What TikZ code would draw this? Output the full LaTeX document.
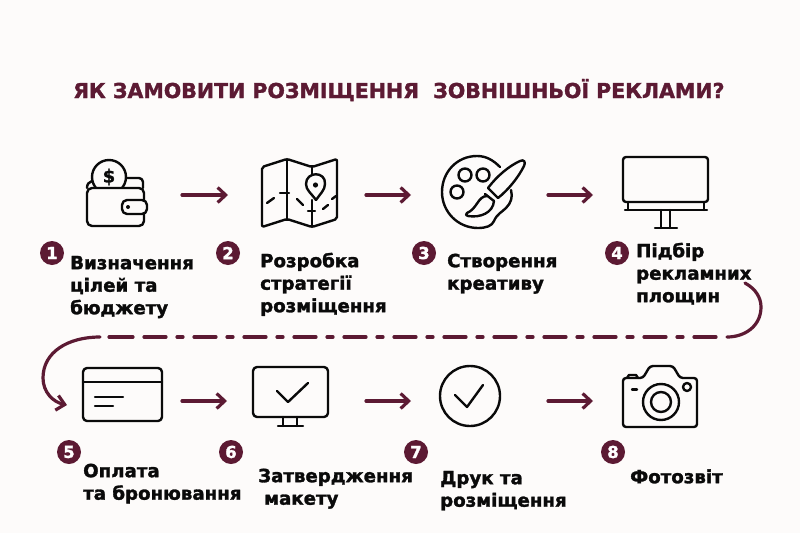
\documentclass[tikz,border=0pt]{standalone}
\usepackage{fontspec}
\setmainfont{DejaVu Sans}[BoldFeatures={FakeBold=1.6}]
\usetikzlibrary{arrows.meta}
\definecolor{maroon}{HTML}{5C1A33}
\definecolor{paper}{HTML}{FDFBFA}
\definecolor{ink}{HTML}{0A0A0A}
\tikzset{
  icon/.style={draw=ink,line width=2.4pt,line join=round,line cap=round},
  flow/.style={draw=maroon,line width=3.2pt,line cap=round,line join=round,-{Straight Barb[length=8pt,width=15pt,line width=3.2pt]}},
  dashrun/.style={draw=maroon,line width=3.2pt,line cap=round,dash pattern=on 22pt off 11pt on 6pt off 11pt},
  curve/.style={draw=maroon,line width=3.2pt,line cap=round},
  badge/.style={circle,fill=maroon,text=white,minimum size=24pt,inner sep=0pt,font=\bfseries\fontsize{16.5}{16.5}\selectfont},
  steptext/.style={anchor=north west,inner sep=0pt,align=left,text=ink,font=\bfseries\fontsize{18.2}{22.5}\selectfont},
}
\newcommand{\steplabel}[4]{\node[steptext] (#1) at (#2,#3-15) {\rule{0pt}{15pt}#4};}
\begin{document}
\begin{tikzpicture}[x=1pt,y=-1pt]
\useasboundingbox (0,0) rectangle (800,533);
\fill[paper] (0,0) rectangle (800,533);
\node[anchor=base west,inner sep=0pt,text=maroon,font=\bfseries\fontsize{20.53}{21}\selectfont] (title) at (73,98) {ЯК ЗАМОВИТИ РОЗМІЩЕННЯ\ \ ЗОВНІШНЬОЇ РЕКЛАМИ?};

% --- wallet
\begin{scope}
\clip (80,150) rectangle (150,188);
\draw[icon] (109,177) circle[radius=17pt];
\end{scope}
\node[inner sep=0pt,text=ink,font=\bfseries\fontsize{18}{18}\selectfont] (dollar) at (109,177) {\$};
\draw[icon,rounded corners=5pt] (144,200) -- (144,188) -- (87,188) -- (87,226) -- (144,226) -- (144,214);
\draw[icon] (87,188) .. controls (87,184) and (89,182) .. (92,181);
\draw[icon,rounded corners=4pt] (127,178) -- (143,178) -- (143,188);
\draw[icon,rounded corners=5pt] (147,200) -- (122,200) -- (122,214) -- (147,214) -- cycle;
\fill[ink] (128,207) circle[radius=2pt];

% --- map
\draw[icon,rounded corners=2pt] (262,167) -- (287,159) -- (312,167) -- (337,159) -- (337,219) -- (312,227) -- (287,219) -- (262,227) -- cycle;
\draw[icon] (287,159) -- (287,219);
\draw[icon] (312,167) -- (312,175);
\draw[icon] (312,200) -- (312,227);
\draw[icon] (316,200) .. controls (311,193) and (306,190) .. (306,184) .. controls (306,171) and (326,171) .. (325,184) .. controls (325,190) and (320,194) .. (316,200);
\fill[ink] (315.5,185) circle[radius=2.6pt];
\draw[icon] (267,203) -- (274,198);
\draw[icon] (280,193) -- (289,193);
\draw[icon] (297,199) -- (303,205);
\draw[icon] (308,211) -- (315,211);
\draw[icon] (323,209) -- (328,205);
\draw[icon] (332,199) -- (336,196);

% --- palette
\draw[icon] (500,167) .. controls (493,160) and (486,156) .. (477,156)
  .. controls (457,156) and (442,172) .. (442,192)
  .. controls (442,212) and (458,228) .. (478,228)
  .. controls (486,228) and (492,226) .. (494,221)
  .. controls (497,214) and (502,212) .. (506,208)
  .. controls (511,203) and (513,197) .. (511,190);
\draw[icon] (465,175) circle[radius=6.5pt];
\draw[icon] (483,175) circle[radius=6.5pt];
\draw[icon] (457,192) circle[radius=6.5pt];
\draw[icon] (488,188) .. controls (497,176) and (509,166) .. (520,161)
  .. controls (524,159) and (526,162) .. (524,166)
  .. controls (518,178) and (508,190) .. (498,198) -- cycle;
\draw[icon] (485,194) -- (494,201);
\draw[icon] (487,196) .. controls (478,196) and (477,209) .. (467,213)
  .. controls (465,214) and (466,216) .. (468,216)
  .. controls (480,218) and (493,213) .. (494,201);

% --- billboard
\draw[icon,rounded corners=3pt] (623,157) rectangle (708,202);
\draw[icon] (628,202) -- (628,210);
\draw[icon] (704,202) -- (704,210);
\draw[icon] (625,210) -- (707,210);
\draw[icon] (661,210) -- (661,228);
\draw[icon] (670,210) -- (670,228);
\draw[icon] (655,228) -- (677,228);

% --- card
\draw[icon,rounded corners=4pt] (83,368) rectangle (162,421);
\draw[icon] (83,382) -- (162,382);
\draw[icon] (95,397) -- (123,397);
\draw[icon] (95,406) -- (113,406);

% --- monitor
\draw[icon,rounded corners=4pt] (253,367) rectangle (328,417);
\draw[icon] (277,391) -- (288,402) -- (308,383);
\draw[icon] (283,417) -- (283,426);
\draw[icon] (297,417) -- (297,426);
\draw[icon] (278,426) -- (303,426);

% --- round check
\draw[icon] (470,396) circle[radius=30pt];
\draw[icon] (455,395) -- (467,407) -- (483,385);

% --- camera
\draw[icon,rounded corners=3pt] (623,384) -- (623,427) -- (697,427) -- (697,378) -- (680,378) -- (673,366) -- (650,366) -- (643,378) -- (623,378) -- cycle;
\draw[icon] (627,378) -- (629,375) -- (636,375) -- (638,378);
\draw[icon] (661,402) circle[radius=18pt];
\draw[icon] (661,402) circle[radius=10pt];
\draw[icon] (687,387) circle[radius=4pt];
\draw[icon] (632,389.5) -- (637,389.5);

% --- arrows between steps
\coordinate (a1s) at (182,195); \coordinate (a1e) at (228,195);
\coordinate (a2s) at (366,195); \coordinate (a2e) at (411,195);
\coordinate (a3s) at (548,195); \coordinate (a3e) at (593,195);
\coordinate (a5s) at (182,401); \coordinate (a5e) at (227,401);
\coordinate (a6s) at (366,401); \coordinate (a6e) at (411,401);
\coordinate (a7s) at (548,401); \coordinate (a7e) at (593,401);
\foreach \n in {1,2,3,5,6,7} \draw[flow] (a\n s) -- (a\n e);

% --- long return line
\coordinate (r0) at (745,283);
\coordinate (r1) at (727,337);
\coordinate (r2) at (716,337);
\coordinate (r3) at (142,337);
\coordinate (r4) at (133,337);
\coordinate (r5) at (109,337);
\coordinate (r6) at (100,337);
\coordinate (r7) at (67,405);
\draw[curve] (r0) .. controls (756,289) and (761,298) .. (761,307) .. controls (761,326) and (745,337) .. (r1);
\draw[dashrun] (r2) -- (r3);
\draw[curve] (r4) -- (r5);
\draw[flow] (r6) .. controls (68,337) and (43,352) .. (43,378) .. controls (43,392) and (53,402) .. (r7);

% --- number badges
\node[badge] (n1) at (52,253) {1};
\node[badge] (n2) at (228,253) {2};
\node[badge] (n3) at (424,253) {3};
\node[badge] (n4) at (617,253) {4};
\node[badge] (n5) at (69,452) {5};
\node[badge] (n6) at (231,452) {6};
\node[badge] (n7) at (416,452) {7};
\node[badge] (n8) at (613,452) {8};

% --- step texts
\steplabel{t1}{70}{269}{Визначення\\цілей та\\бюджету}
\steplabel{t2}{260}{267}{Розробка\\стратегії\\розміщення}
\steplabel{t3}{447}{267}{Створення\\креативу}
\steplabel{t4}{636}{257}{Підбір\\рекламних\\площин}
\steplabel{t5}{83}{477}{Оплата\\та бронювання}
\steplabel{t6}{258}{482}{Затвердження\\\hspace{6pt}макету}
\steplabel{t7}{440}{484}{Друк та\\розміщення}
\steplabel{t8}{630}{483}{Фотозвіт}
\end{tikzpicture}
\end{document}
